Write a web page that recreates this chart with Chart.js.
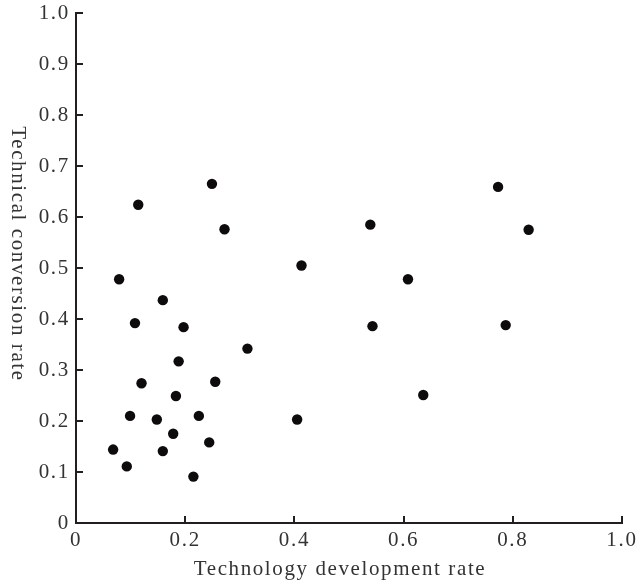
<!DOCTYPE html>
<html>
<head>
<meta charset="utf-8">
<script src="https://cdn.jsdelivr.net/npm/chart.js@4.4.0/dist/chart.umd.min.js"></script>
<style>
  html, body { margin: 0; padding: 0; background: #fff; }
  #wrap { width: 636px; height: 583px; }
</style>
</head>
<body>
<div id="wrap"><canvas id="chart"></canvas></div>
<script>
// Technology development rate (x) vs Technical conversion rate (y)
const devRate = [
  0.249, 0.114, 0.272, 0.079, 0.159, 0.108, 0.197, 0.314, 0.188, 0.120,
  0.255, 0.183, 0.099, 0.148, 0.225, 0.178, 0.244, 0.068, 0.159, 0.093,
  0.215, 0.539, 0.413, 0.608, 0.543, 0.636, 0.405, 0.773, 0.829, 0.787
];
const convRate = [
  0.665, 0.624, 0.576, 0.478, 0.437, 0.392, 0.384, 0.342, 0.317, 0.274,
  0.277, 0.249, 0.210, 0.203, 0.210, 0.175, 0.158, 0.144, 0.141, 0.111,
  0.091, 0.585, 0.505, 0.478, 0.386, 0.251, 0.203, 0.659, 0.575, 0.388
];
const xTitle = 'Technology development rate';
const yTitle = 'Technical conversion rate';

const ink = '#231f20';
const txt = '#333333';
const font = { family: '"Liberation Serif", "Times New Roman", serif', size: 21 };

// inside tick marks + rotated titles
const decor = {
  id: 'decor',
  beforeDraw(chart) {
    chart.ctx.letterSpacing = '1.7px';
  },
  afterDraw(chart) {
    const { ctx, chartArea: a, scales: { x, y } } = chart;
    ctx.save();
    ctx.strokeStyle = ink;
    ctx.lineWidth = 2;
    ctx.beginPath();
    x.ticks.forEach(t => {
      if (t.value === 0) return;
      const px = Math.round(x.getPixelForValue(t.value));
      ctx.moveTo(px, a.bottom);
      ctx.lineTo(px, a.bottom - 7);
    });
    y.ticks.forEach(t => {
      if (t.value === 0) return;
      const py = Math.round(y.getPixelForValue(t.value));
      ctx.moveTo(a.left, py);
      ctx.lineTo(a.left + 7, py);
    });
    ctx.stroke();

    ctx.fillStyle = txt;
    ctx.font = `${font.size}px ${font.family}`;
    ctx.letterSpacing = '1.6px';
    ctx.textAlign = 'center';
    ctx.textBaseline = 'alphabetic';
    ctx.fillText(xTitle, a.left + 264, 575);

    ctx.translate(12, 254);
    ctx.rotate(Math.PI / 2);
    ctx.fillText(yTitle, 0, 0);
    ctx.restore();
    ctx.letterSpacing = '0px';
  }
};

new Chart(document.getElementById('chart'), {
  type: 'scatter',
  data: {
    datasets: [{
      data: devRate.map((v, i) => ({ x: v, y: convRate[i] })),
      backgroundColor: '#0d0b0c',
      borderColor: '#0d0b0c',
      pointRadius: 5.2,
      pointHoverRadius: 5.2,
      borderWidth: 0
    }]
  },
  options: {
    responsive: true,
    maintainAspectRatio: false,
    animation: false,
    layout: { padding: { top: 13, right: 14, left: 0, bottom: 0 } },
    plugins: { legend: { display: false }, tooltip: { enabled: false } },
    scales: {
      x: {
        type: 'linear',
        min: 0, max: 1,
        ticks: {
          stepSize: 0.2, color: txt, font, padding: 5,
          callback: v => v === 0 ? '0' : v.toFixed(1)
        },
        grid: { display: true, drawOnChartArea: false, drawTicks: false },
        border: { display: true, color: ink, width: 2 },
        afterFit: s => { s.height = 60; s.paddingLeft = 0; s.paddingRight = 0; }
      },
      y: {
        type: 'linear',
        min: 0, max: 1,
        ticks: {
          stepSize: 0.1, color: txt, font, padding: 6,
          callback: v => v === 0 ? '0' : v.toFixed(1)
        },
        grid: { display: true, drawOnChartArea: false, drawTicks: false },
        border: { display: true, color: ink, width: 2 },
        afterFit: s => { s.width = 76; s.paddingTop = 0; s.paddingBottom = 0; }
      }
    }
  },
  plugins: [decor]
});
</script>
</body>
</html>
